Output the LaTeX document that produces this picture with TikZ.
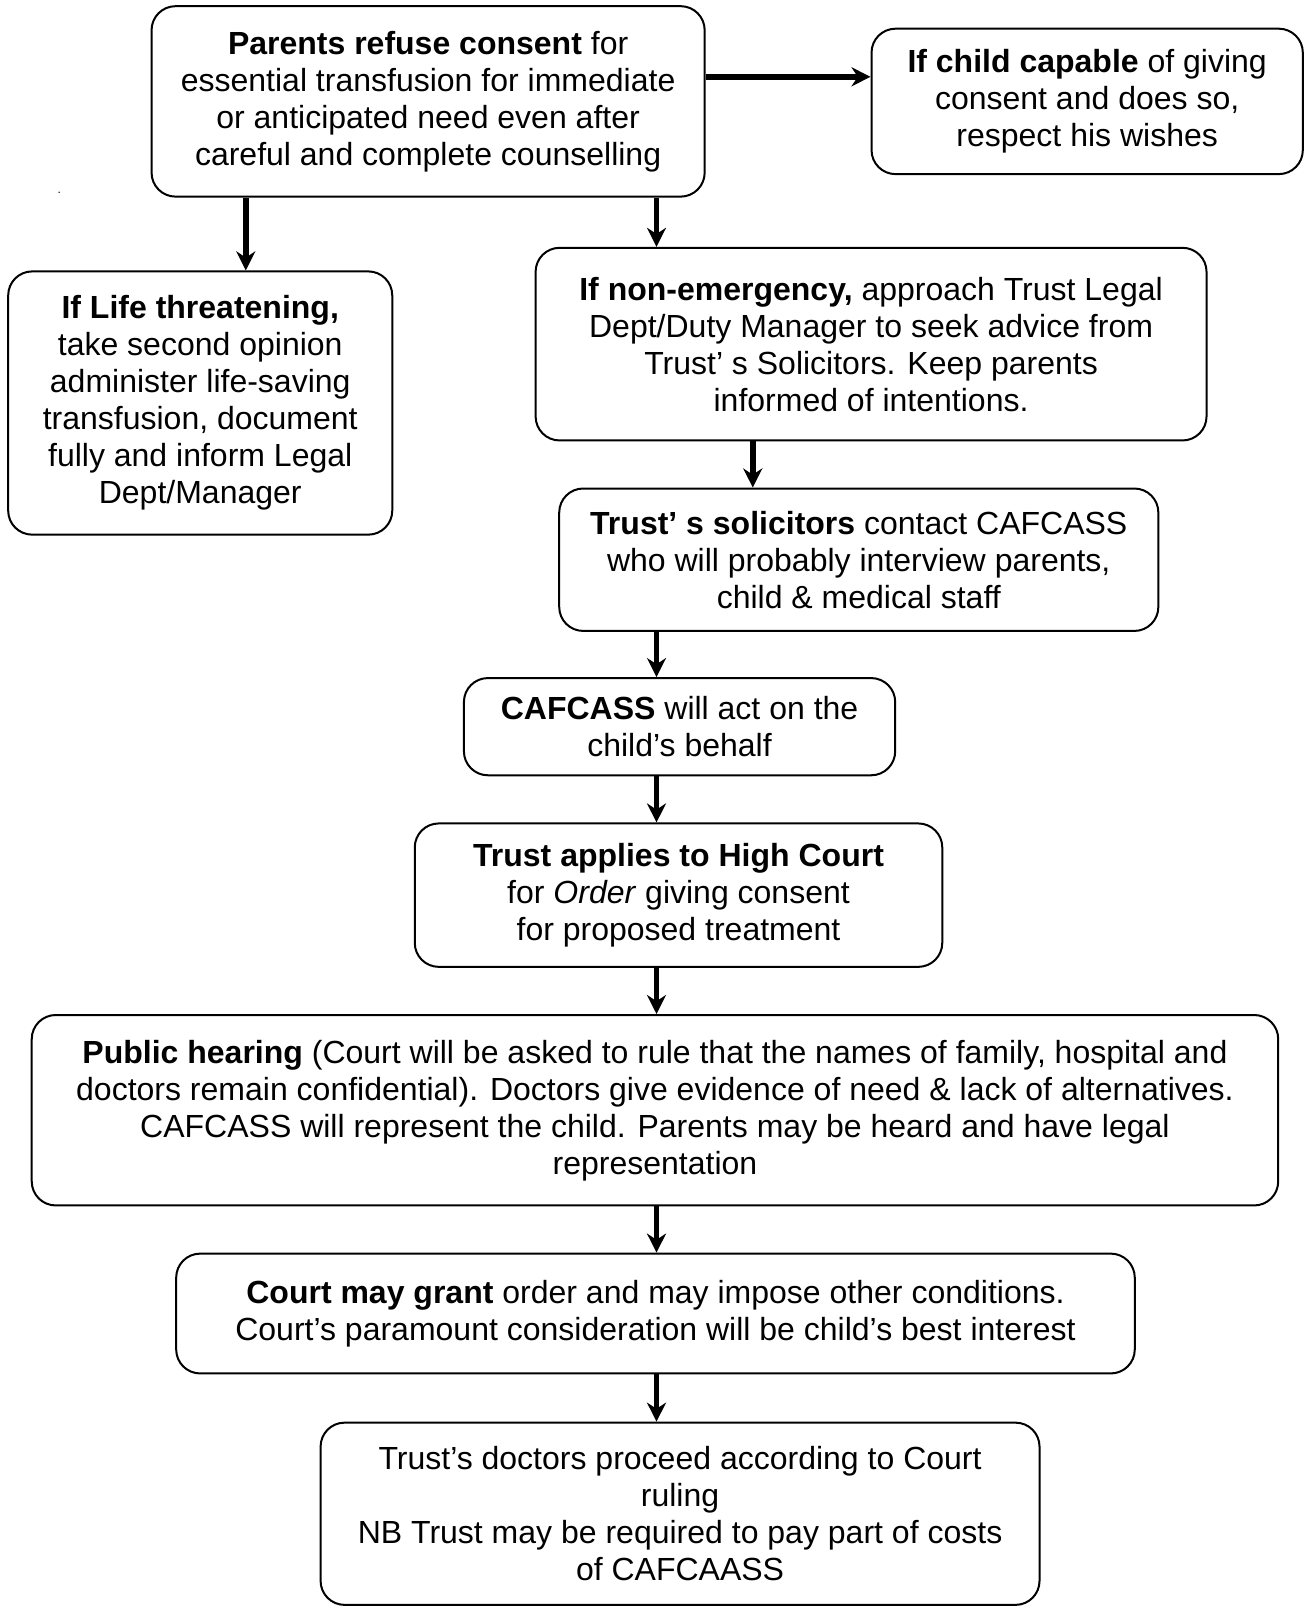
\documentclass[tikz,border=0pt]{standalone}
\usepackage{fontspec}
\setmainfont{Liberation Sans}
\usetikzlibrary{arrows.meta}
\begin{document}
\begin{tikzpicture}[
      x=0.512pt, y=-0.512pt,
      box/.style={draw, line width=1pt, rounded corners=12pt, align=center,
                  inner sep=0pt, font=\fontsize{16}{18.5}\selectfont},
      arr/.style={line width=2.8pt, -{Stealth[length=9.5pt, width=9.5pt]}}
    ]
      \useasboundingbox (0,0) rectangle (1276,1571);
      % boxes
      \node[box, minimum width=276.5pt, minimum height=95.2pt] (top) at (418,99)
        {\textbf{Parents refuse consent} for\\ essential transfusion for immediate\\
         or anticipated need even after\\ careful and complete counselling};
      \node[box, minimum width=215.6pt, minimum height=72.7pt] (capable) at (1061.5,99)
        {\textbf{If child capable} of giving\\ consent and does so,\\ respect his wishes};
      \node[box, minimum width=192pt, minimum height=131.6pt] (life) at (195.5,393.5)
        {\textbf{If Life threatening,}\\ take second opinion\\ administer life-saving\\
         transfusion, document\\ fully and inform Legal\\ Dept/Manager};
      \node[box, minimum width=335.4pt, minimum height=96.3pt] (nonem) at (850.5,336)
        {\textbf{If non-emergency,} approach Trust Legal\\ Dept/Duty Manager to seek advice from\\
         Trust’ s Solicitors. Keep parents\\ informed of intentions.};
      \node[box, minimum width=299.5pt, minimum height=71.2pt] (sol) at (838.5,546.5)
        {\textbf{Trust’ s solicitors} contact CAFCASS\\ who will probably interview parents,\\
         child \& medical staff};
      \node[box, minimum width=215.6pt, minimum height=48.6pt] (caf) at (663.5,709.5)
        {\textbf{CAFCASS} will act on the\\ child’s behalf};
      \node[box, minimum width=263.7pt, minimum height=71.7pt] (app) at (662.5,874)
        {\textbf{Trust applies to High Court}\\ for \textit{Order} giving consent\\ for proposed treatment};
      \node[box, minimum width=623.1pt, minimum height=95.2pt] (hear) at (639.5,1084)
        {\textbf{Public hearing} (Court will be asked to rule that the names of family, hospital and\\
         doctors remain confidential). Doctors give evidence of need \& lack of alternatives.\\
         CAFCASS will represent the child. Parents may be heard and have legal\\ representation};
      \node[box, minimum width=479.2pt, minimum height=59.9pt] (grant) at (640,1282.5)
        {\textbf{Court may grant} order and may impose other conditions.\\
         Court’s paramount consideration will be child’s best interest};
      \node[box, minimum width=359.4pt, minimum height=91.1pt] (doc) at (664,1478)
        {Trust’s doctors proceed according to Court\\ ruling\\
         NB Trust may be required to pay part of costs\\ of CAFCAASS};
      \node[font=\fontsize{6}{6}\selectfont, inner sep=0pt] (dot) at (58,188) {.};
      % arrows
      \coordinate (spine) at (641,0);
      \coordinate (lx) at (240,0);
      \coordinate (sx) at (735,0);
      \coordinate (ry) at (0,75);
      \draw[arr] (top.east |- ry) -- (capable.west |- ry);
      \draw[arr] (top.south -| lx) -- (life.north -| lx);
      \draw[arr] (top.south -| spine) -- (nonem.north -| spine);
      \draw[arr] (nonem.south -| sx) -- (sol.north -| sx);
      \foreach \a/\b in {sol/caf, caf/app, app/hear, hear/grant, grant/doc}
        \draw[arr] (\a.south -| spine) -- (\b.north -| spine);
    \end{tikzpicture}
\end{document}
